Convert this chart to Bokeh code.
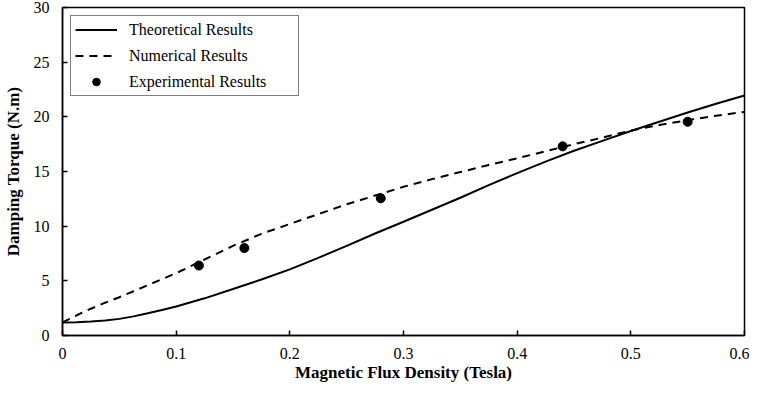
from bokeh.plotting import figure
from bokeh.models import Range1d, FixedTicker, Legend, LegendItem
from bokeh.embed import file_html
from bokeh.resources import INLINE

# ---- data ----
x_curve = [0.0, 0.0125, 0.025, 0.0375, 0.05, 0.0625, 0.075, 0.0875, 0.1, 0.125,
           0.15, 0.175, 0.2, 0.225, 0.25, 0.275, 0.3, 0.325, 0.35, 0.375, 0.4,
           0.425, 0.45, 0.475, 0.5, 0.525, 0.55, 0.575, 0.6]
theoretical = [1.2, 1.22, 1.28, 1.37, 1.52, 1.75, 2.03, 2.33, 2.65, 3.4,
               4.25, 5.12, 6.05, 7.1, 8.2, 9.33, 10.4, 11.5, 12.6, 13.75, 14.85,
               15.9, 16.9, 17.8, 18.7, 19.55, 20.4, 21.2, 21.95]
numerical = [1.2, 1.85, 2.45, 3.0, 3.5, 4.05, 4.6, 5.15, 5.7, 6.95,
             8.2, 9.3, 10.2, 11.1, 12.0, 12.8, 13.6, 14.3, 14.95, 15.6, 16.2,
             16.85, 17.5, 18.1, 18.75, 19.25, 19.7, 20.1, 20.45]
x_exp = [0.12, 0.16, 0.28, 0.44, 0.55]
experimental = [6.4, 8.0, 12.55, 17.3, 19.55]

x_ticks = [0, 0.1, 0.2, 0.3, 0.4, 0.5, 0.6]
x_tick_labels = ["0", "0.1", "0.2", "0.3", "0.4", "0.5", "0.6"]
y_ticks = [0, 5, 10, 15, 20, 25, 30]
y_tick_labels = ["0", "5", "10", "15", "20", "25", "30"]

FONT = "Liberation Serif"

p = figure(width=749, height=384, output_backend="svg", toolbar_location=None,
           x_range=Range1d(0, 0.6), y_range=Range1d(0, 30),
           min_border_left=54, min_border_right=5, min_border_top=7,
           min_border_bottom=40)

p.xgrid.visible = False
p.ygrid.visible = False
p.outline_line_color = "black"
p.outline_line_width = 1.5
p.outline_line_alpha = 1.0
p.background_fill_color = "white"
p.border_fill_color = "white"

r_theo = p.line(x_curve, theoretical, line_color="black", line_width=2)
r_num = p.line(x_curve, numerical, line_color="black", line_width=2,
               line_dash="8 6")
r_exp = p.scatter(x_exp, experimental, size=9, marker="circle",
                  fill_color="black", line_color="black")

for ax in (p.xaxis[0], p.yaxis[0]):
    ax.axis_line_color = "black"
    ax.axis_line_width = 1.5
    ax.major_tick_in = 5
    ax.major_tick_out = 0
    ax.major_tick_line_color = "black"
    ax.major_tick_line_width = 1.5
    ax.minor_tick_line_color = None
    ax.major_label_text_font = FONT
    ax.major_label_text_font_size = "16px"
    ax.major_label_text_color = "black"
    ax.axis_label_text_font = FONT
    ax.axis_label_text_font_size = "17px"
    ax.axis_label_text_font_style = "bold"
    ax.axis_label_text_color = "black"

p.xaxis.ticker = FixedTicker(ticks=x_ticks)
p.xaxis.major_label_overrides = dict(zip(x_ticks, x_tick_labels))
p.yaxis.ticker = FixedTicker(ticks=y_ticks)
p.yaxis.major_label_overrides = dict(zip(y_ticks, y_tick_labels))
p.xaxis.axis_label = "Magnetic Flux Density (Tesla)"
p.yaxis.axis_label = "Damping Torque (N.m)"
p.xaxis.major_label_standoff = 12
p.xaxis.axis_label_standoff = 1
p.yaxis.major_label_standoff = 13
p.yaxis.axis_label_standoff = 8

legend = Legend(items=[
    LegendItem(label="Theoretical Results", renderers=[r_theo]),
    LegendItem(label="Numerical Results", renderers=[r_num]),
    LegendItem(label="Experimental Results", renderers=[r_exp]),
], location="top_left")
legend.margin = 8
legend.padding = 4
legend.spacing = 7
legend.glyph_width = 42
legend.glyph_height = 19
legend.label_height = 19
legend.label_standoff = 12
legend.label_width = 165
legend.label_text_font = FONT
legend.label_text_font_size = "16px"
legend.label_text_color = "black"
legend.border_line_color = "black"
legend.border_line_width = 1.5
legend.background_fill_color = "white"
legend.background_fill_alpha = 1.0
p.add_layout(legend)

open("out.html", "w").write(file_html(p, INLINE))
